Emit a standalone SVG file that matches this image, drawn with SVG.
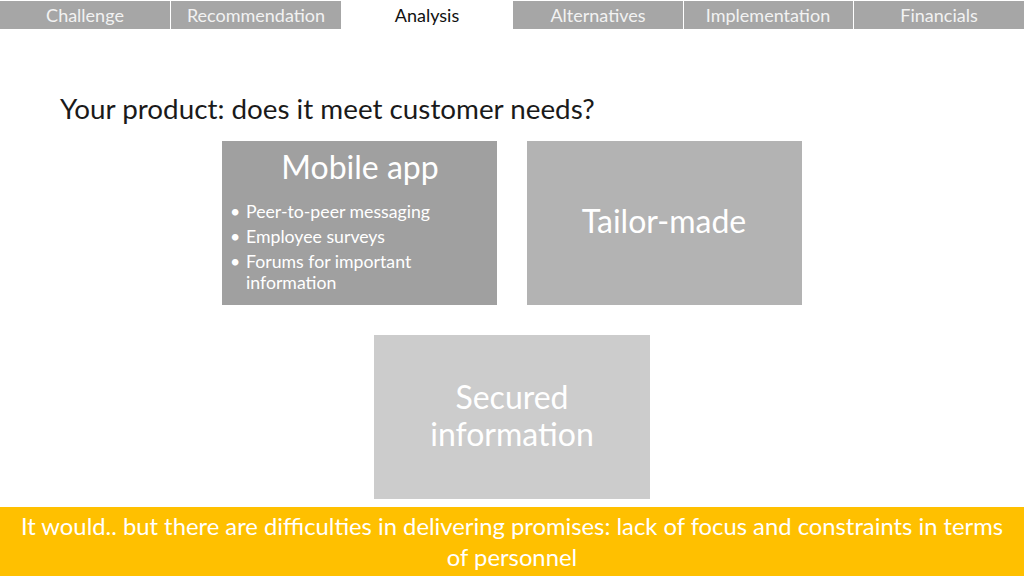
<svg xmlns="http://www.w3.org/2000/svg" width="1024" height="576" viewBox="0 0 1024 576">
<style>
text{font-family:"Lato","Open Sans","Liberation Sans",sans-serif}
.tab{fill:#a6a6a6}
.tt{fill:#f2f2f2;font-size:18px;text-anchor:middle}
.big{fill:#ffffff;font-size:32px;text-anchor:middle}
.bul{fill:#ffffff;font-size:17.7px}
</style>
<rect width="1024" height="576" fill="#ffffff"/>
<g id="tabs">
<rect class="tab" x="0" y="1" width="170" height="28"/>
<rect class="tab" x="171" y="1" width="170" height="28"/>
<rect x="342" y="1" width="170" height="28" fill="#ffffff"/>
<rect class="tab" x="513" y="1" width="170" height="28"/>
<rect class="tab" x="684" y="1" width="169" height="28"/>
<rect class="tab" x="854" y="1" width="170" height="28"/>
<text class="tt" x="85" y="22">Challenge</text>
<text class="tt" x="256" y="22">Recommendation</text>
<text class="tt" x="427" y="22" style="fill:#111111">Analysis</text>
<text class="tt" x="598" y="22">Alternatives</text>
<text class="tt" x="768" y="22">Implementation</text>
<text class="tt" x="939" y="22">Financials</text>
</g>
<text id="title" x="60" y="119" font-size="27.8" fill="#1a1a1a">Your product: does it meet customer needs?</text>
<g id="connectors"></g>
<g id="mobile">
<rect x="222" y="141" width="275" height="164" fill="#a0a0a0"/>
<text class="big" x="360" y="179">Mobile app</text>
<text class="bul" x="230" y="218">•</text><text class="bul" x="246" y="218">Peer-to-peer messaging</text>
<text class="bul" x="230" y="243">•</text><text class="bul" x="246" y="243">Employee surveys</text>
<text class="bul" x="230" y="268">•</text><text class="bul" x="246" y="268">Forums for important</text>
<text class="bul" x="246" y="289">information</text>
</g>
<g id="tailor">
<rect x="527" y="141" width="275" height="164" fill="#b3b3b3"/>
<text class="big" x="664" y="233">Tailor-made</text>
</g>
<g id="secured">
<rect x="374" y="335" width="276" height="164" fill="#cccccc"/>
<text class="big" x="512" y="409">Secured</text>
<text class="big" x="512" y="446">information</text>
</g>
<g id="banner">
<rect x="0" y="507" width="1024" height="69" fill="#ffc000"/>
<text x="512" y="535" font-size="23.8" fill="#ffffff" text-anchor="middle">It would.. but there are difficulties in delivering promises: lack of focus and constraints in terms</text>
<text x="512" y="566" font-size="23.8" fill="#ffffff" text-anchor="middle">of personnel</text>
</g>
</svg>
